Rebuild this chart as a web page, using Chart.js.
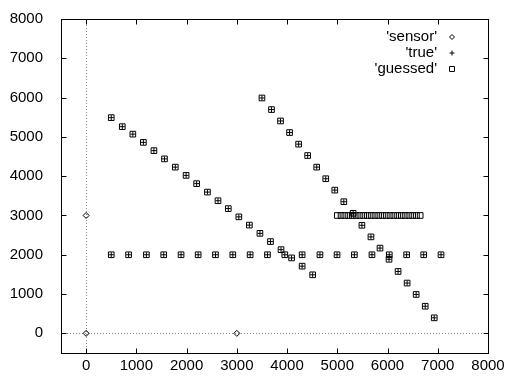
<!DOCTYPE html>
<html>
<head>
<meta charset="utf-8">
<script src="https://cdn.jsdelivr.net/npm/chart.js@4.4.0/dist/chart.umd.min.js"></script>
<style>
  html, body { margin: 0; padding: 0; background: #fff; }
</style>
</head>
<body>
<canvas id="c" width="515" height="377"></canvas>
<script>
// sensor readings
const sensorX = [0, 0, 3000];
const sensorY = [3000, 0, 0];

// first diagonal track
const track1X = [500, 720, 930, 1140, 1350, 1560, 1775, 1990, 2200, 2415, 2625, 2830, 3040, 3250, 3460, 3670, 3880, 4090, 4300, 4510];
const track1Y = [5490, 5260, 5070, 4860, 4650, 4440, 4230, 4020, 3810, 3595, 3375, 3175, 2965, 2755, 2545, 2335, 2130, 1920, 1710, 1490];

// second diagonal track
const track2X = [3500, 3690, 3870, 4050, 4230, 4410, 4590, 4770, 4950, 5130, 5315, 5490, 5670, 5850, 6030, 6210, 6390, 6570, 6750, 6930];
const track2Y = [5990, 5695, 5405, 5110, 4815, 4525, 4230, 3935, 3645, 3350, 3055, 2750, 2455, 2170, 1885, 1575, 1280, 990, 690, 395];

// flat track at 2000
const track3X = [500, 845, 1200, 1545, 1890, 2230, 2575, 2920, 3265, 3610, 3955, 4300, 4655, 4995, 5340, 5690, 6035, 6380, 6720, 7065];
const track3Y = [2000, 2000, 2000, 2000, 2000, 2000, 2000, 2000, 2000, 2000, 2000, 2000, 2000, 2000, 2000, 2000, 2000, 2000, 2000, 2000];

// dense guesses near 3000
const clusterX = [5000, 5075, 5150, 5225, 5300, 5375, 5450, 5525, 5600, 5675, 5750, 5825, 5900, 5975, 6050, 6125, 6200, 6275, 6350, 6425, 6500, 6575, 6650];
const clusterY = [3000, 3000, 3000, 3000, 3000, 3000, 3000, 3000, 3000, 3000, 3000, 3000, 3000, 3000, 3000, 3000, 3000, 3000, 3000, 3000, 3000, 3000, 3000];

const xTicks = [0, 1000, 2000, 3000, 4000, 5000, 6000, 7000, 8000];
const yTicks = [0, 1000, 2000, 3000, 4000, 5000, 6000, 7000, 8000];

const pts = (xs, ys) => xs.map((x, i) => ({ x, y: ys[i] }));

const FONT = { family: '"Liberation Sans", Arial, sans-serif', size: 15 };

// gnuplot-ish frame: box, inward ticks, dotted zero axes, legend
const framePlugin = {
  id: 'frame',
  beforeDatasetsDraw(chart) {
    const { ctx, chartArea: a, scales: { x, y } } = chart;
    ctx.save();
    ctx.strokeStyle = '#888';
    ctx.lineWidth = 1;
    ctx.setLineDash([1, 2]);
    const y0 = Math.round(y.getPixelForValue(0)) + 0.5;
    const x0 = Math.round(x.getPixelForValue(0)) + 0.5;
    ctx.beginPath();
    ctx.moveTo(a.left, y0); ctx.lineTo(a.right, y0);
    ctx.moveTo(x0, a.top); ctx.lineTo(x0, a.bottom);
    ctx.stroke();
    ctx.restore();
  },
  afterDatasetsDraw(chart) {
    const { ctx, chartArea: a, scales: { x, y } } = chart;
    ctx.save();
    ctx.strokeStyle = '#000';
    ctx.lineWidth = 1;
    const L = Math.round(a.left) + 0.5, R = Math.round(a.right) + 0.5;
    const T = Math.round(a.top) + 0.5, B = Math.round(a.bottom) + 0.5;
    ctx.strokeRect(L, T, R - L, B - T);
    ctx.beginPath();
    xTicks.forEach(v => {
      const px = Math.round(x.getPixelForValue(v)) + 0.5;
      ctx.moveTo(px, B); ctx.lineTo(px, B - 5);
      ctx.moveTo(px, T); ctx.lineTo(px, T + 5);
    });
    yTicks.forEach(v => {
      const py = Math.round(y.getPixelForValue(v)) + 0.5;
      ctx.moveTo(L, py); ctx.lineTo(L + 5, py);
      ctx.moveTo(R, py); ctx.lineTo(R - 5, py);
    });
    ctx.stroke();

    // legend, text right-aligned then symbol
    ctx.font = `${FONT.size}px ${FONT.family}`;
    ctx.textAlign = 'right';
    ctx.textBaseline = 'middle';
    chart.data.datasets.filter(d => d.label).forEach((d, i) => {
      const ly = 37 + i * 16;
      ctx.fillStyle = '#000';
      ctx.fillText(d.label, 437, ly);
      ctx.fillStyle = 'rgba(0,0,0,0)';
      ctx.strokeStyle = '#000';
      Chart.helpers.drawPoint(ctx, {
        pointStyle: d.pointStyle, radius: d.legendRadius, rotation: 0, borderWidth: 1
      }, 452, ly);
    });
    ctx.restore();
  }
};

const mark = { borderColor: '#000', backgroundColor: 'rgba(0,0,0,0)', borderWidth: 1, showLine: false };

new Chart(document.getElementById('c'), {
  type: 'scatter',
  data: {
    datasets: [
      { ...mark, label: "'sensor'", data: pts(sensorX, sensorY), pointStyle: 'rectRot', pointRadius: 3, legendRadius: 2.5 },
      { ...mark, label: "'true'", data: [...pts(track1X, track1Y), ...pts(track2X, track2Y), ...pts(track3X, track3Y)], pointStyle: 'cross', pointRadius: 2.5, legendRadius: 2.5 },
      { ...mark, label: "'guessed'", data: [...pts(track1X, track1Y), ...pts(track2X, track2Y), ...pts(track3X, track3Y), ...pts(clusterX, clusterY)], pointStyle: 'rect', pointRadius: 4, legendRadius: 3.5 }
    ]
  },
  options: {
    responsive: false,
    animation: false,
    layout: { padding: { left: 0, right: 27, top: 15, bottom: 0 } },
    plugins: { legend: { display: false }, tooltip: { enabled: false } },
    scales: {
      x: {
        type: 'linear', min: -500, max: 8000,
        afterBuildTicks: s => { s.ticks = xTicks.map(v => ({ value: v })); },
        afterFit: s => { s.height = 24; },
        ticks: { color: '#000', font: FONT, padding: -4, maxRotation: 0, callback: v => String(v) },
        grid: { display: false },
        border: { display: false }
      },
      y: {
        type: 'linear', min: -500, max: 8000,
        afterBuildTicks: s => { s.ticks = yTicks.map(v => ({ value: v })); },
        afterFit: s => { s.width = 61; },
        ticks: { color: '#000', font: FONT, padding: 10, callback: v => String(v) },
        grid: { display: false },
        border: { display: false }
      }
    }
  },
  plugins: [framePlugin]
});
</script>
</body>
</html>
